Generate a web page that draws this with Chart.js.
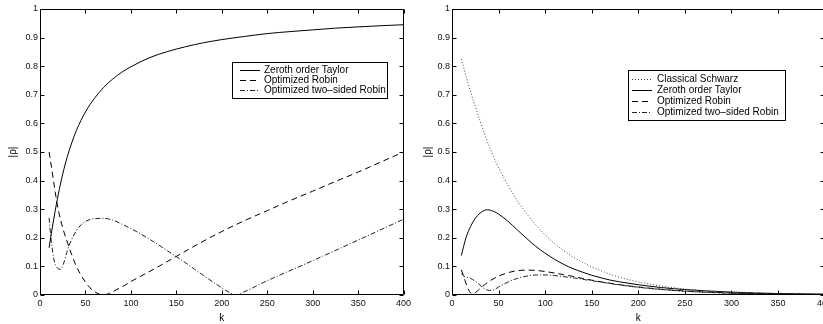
<!DOCTYPE html>
<html>
<head>
<meta charset="utf-8">
<script src="https://cdn.jsdelivr.net/npm/chart.js@4.4.0/dist/chart.umd.min.js"></script>
<style>
html,body{margin:0;padding:0;background:#fff;overflow:hidden;width:823px;height:324px}
canvas{position:absolute;top:0}
#cL{left:0}
#cR{left:412px}
</style>
</head>
<body>
<canvas id="cL" width="420" height="324"></canvas>
<canvas id="cR" width="430" height="324"></canvas>
<script>
// ---- tick labels ----
const xTickValues = [0, 50, 100, 150, 200, 250, 300, 350, 400];
const yTickValues = [0, 0.1, 0.2, 0.3, 0.4, 0.5, 0.6, 0.7, 0.8, 0.9, 1];

// ---- left panel ----
const leftTaylorK = [10,12,15,18,20,25,30,35,40,45,50,55,60,70,80,90,100,120,140,160,180,200,225,250,275,300,325,350,375,400];
const leftTaylorV = [0.165,0.206,0.263,0.317,0.35,0.423,0.483,0.533,0.575,0.61,0.64,0.666,0.688,0.726,0.755,0.779,0.798,0.829,0.851,0.868,0.882,0.893,0.904,0.914,0.921,0.927,0.933,0.9375,0.9415,0.945];

const leftRobinK = [10,13,16,20,25,30,35,40,45,50,55,60,65,70,75,80,90,100,125,150,175,200,225,250,275,300,325,350,375,400];
const leftRobinV = [0.5,0.44,0.375,0.3,0.235,0.185,0.14,0.1,0.07,0.045,0.025,0.012,0.003,0.0,0.004,0.012,0.028,0.047,0.09,0.135,0.18,0.222,0.26,0.295,0.33,0.363,0.397,0.43,0.465,0.5];

const leftTwoSidedK = [10,12,14,16,18,20,22,24,27,30,35,40,45,50,60,70,80,90,100,110,120,130,140,150,160,170,180,190,200,210,215,220,250,300,350,400];
const leftTwoSidedV = [0.27,0.2,0.15,0.115,0.1,0.092,0.09,0.095,0.12,0.155,0.195,0.225,0.245,0.257,0.267,0.268,0.262,0.248,0.232,0.215,0.196,0.176,0.155,0.134,0.113,0.09,0.068,0.046,0.025,0.006,0.0,0.005,0.05,0.12,0.192,0.265];

// ---- right panel ----
const rightSchwarzK = [10,20,30,40,50,60,70,80,90,100,110,120,130,140,150,160,170,180,200,225,250,275,300,350,400];
const rightSchwarzV = [0.825,0.71,0.61,0.52,0.445,0.385,0.33,0.285,0.245,0.21,0.18,0.155,0.133,0.115,0.098,0.085,0.072,0.062,0.046,0.031,0.021,0.014,0.01,0.005,0.002];

const rightTaylorK = [10,15,20,25,30,35,38,45,50,60,70,80,90,100,110,120,130,140,150,160,170,180,200,225,250,275,300,350,400];
const rightTaylorV = [0.138,0.2,0.24,0.268,0.286,0.296,0.298,0.292,0.283,0.258,0.228,0.198,0.17,0.146,0.125,0.107,0.092,0.08,0.069,0.06,0.052,0.046,0.036,0.026,0.019,0.014,0.01,0.005,0.003];

const rightRobinK = [10,12,14,16,18,20,22,25,30,35,40,50,60,70,80,90,100,110,120,130,140,150,160,170,180,200,225,250,275,300,350,400];
const rightRobinV = [0.088,0.07,0.05,0.032,0.017,0.007,0.003,0.008,0.022,0.036,0.048,0.066,0.078,0.085,0.087,0.086,0.082,0.077,0.071,0.065,0.058,0.052,0.046,0.041,0.036,0.028,0.02,0.014,0.01,0.007,0.004,0.002];

const rightTwoSidedK = [10,13,16,20,25,30,35,40,45,50,60,70,80,90,100,110,120,130,140,150,160,170,180,200,225,250,275,300,350,400];
const rightTwoSidedV = [0.075,0.065,0.062,0.058,0.048,0.035,0.022,0.016,0.018,0.028,0.045,0.058,0.066,0.07,0.07,0.068,0.064,0.06,0.055,0.05,0.045,0.04,0.035,0.027,0.019,0.013,0.009,0.006,0.003,0.002];

// ---- helpers ----
const FONT = "'Liberation Sans', Arial, Helvetica, sans-serif";
Chart.defaults.font.family = FONT;

function pts(ks, vs) { return ks.map((k, i) => ({ x: k, y: vs[i] })); }

const STYLE = {
  dotted:  { borderColor: '#444', borderWidth: 1, borderDash: [1, 2] },
  solid:   { borderColor: '#000', borderWidth: 1, borderDash: [] },
  dashed:  { borderColor: '#000', borderWidth: 1, borderDash: [6, 4] },
  dashdot: { borderColor: '#222', borderWidth: 1, borderDash: [5, 2, 1, 2] }
};

function ds(label, ks, vs, style) {
  return Object.assign({
    label, data: pts(ks, vs), pointRadius: 0, fill: false,
    cubicInterpolationMode: 'monotone'
  }, STYLE[style]);
}

const frameTicks = {
  id: 'frameTicks',
  afterDraw(chart) {
    const { ctx, chartArea: a, scales: { x, y } } = chart;
    const L = Math.round(a.left) + 0.5, R = Math.round(a.right) - 0.5;
    const T = Math.round(a.top) + 0.5, B = Math.round(a.bottom) - 0.5;
    const len = 4;
    ctx.save();
    ctx.strokeStyle = '#000';
    ctx.lineWidth = 1;
    ctx.setLineDash([]);
    ctx.beginPath();
    ctx.rect(L, T, R - L, B - T);
    xTickValues.forEach(v => {
      const px = Math.round(x.getPixelForValue(v)) + 0.5;
      ctx.moveTo(px, B); ctx.lineTo(px, B - len);
      ctx.moveTo(px, T); ctx.lineTo(px, T + len);
    });
    yTickValues.forEach(v => {
      const py = Math.round(y.getPixelForValue(v)) + 0.5;
      ctx.moveTo(L, py); ctx.lineTo(L + len, py);
      ctx.moveTo(R, py); ctx.lineTo(R - len, py);
    });
    ctx.stroke();
    ctx.restore();
  }
};

const boxLegend = {
  id: 'boxLegend',
  afterDraw(chart, args, opts) {
    const { ctx } = chart;
    const sets = chart.data.datasets;
    const rowH = opts.rowH, bx = opts.x, by = opts.y, bw = opts.w;
    const bh = sets.length * rowH + 6;
    ctx.save();
    ctx.fillStyle = '#fff';
    ctx.fillRect(bx, by, bw, bh);
    ctx.strokeStyle = '#000';
    ctx.lineWidth = 1;
    ctx.setLineDash([]);
    ctx.strokeRect(bx + 0.5, by + 0.5, bw, bh);
    ctx.font = "10px " + FONT;
    ctx.textBaseline = 'middle';
    ctx.textAlign = 'left';
    sets.forEach((d, i) => {
      const cy = Math.round(by + 3 + rowH * (i + 0.5)) + 0.5;
      ctx.strokeStyle = d.borderColor;
      ctx.lineWidth = d.borderWidth;
      ctx.setLineDash(d.borderDash || []);
      ctx.beginPath();
      ctx.moveTo(bx + opts.s0, cy);
      ctx.lineTo(bx + opts.s1, cy);
      ctx.stroke();
      ctx.fillStyle = '#000';
      ctx.fillText(d.label, bx + opts.t0, cy);
    });
    ctx.restore();
  }
};

function makeChart(id, datasets, rightPad, yTitlePad, legendOpts) {
  const tickFont = { size: 9, family: FONT };
  return new Chart(document.getElementById(id), {
    type: 'line',
    data: { datasets },
    plugins: [frameTicks, boxLegend],
    options: {
      responsive: false,
      animation: false,
      devicePixelRatio: 1,
      layout: { padding: { left: 0, right: rightPad, top: 9, bottom: 0 } },
      plugins: {
        legend: { display: false },
        tooltip: { enabled: false },
        boxLegend: legendOpts
      },
      scales: {
        x: {
          type: 'linear', min: 0, max: 400,
          afterBuildTicks: s => { s.ticks = xTickValues.map(v => ({ value: v })); },
          afterFit: s => { s.height = 29; },
          grid: { display: false, drawTicks: false },
          border: { display: false },
          ticks: { padding: 3, font: tickFont, color: '#111', autoSkip: false, maxRotation: 0,
                   callback: v => String(v) },
          title: { display: true, text: 'k', color: '#000', font: { size: 10, family: FONT },
                   padding: { top: 0, bottom: 0 } }
        },
        y: {
          type: 'linear', min: 0, max: 1,
          afterBuildTicks: s => { s.ticks = yTickValues.map(v => ({ value: v })); },
          afterFit: s => { s.width = 40; },
          grid: { display: false, drawTicks: false },
          border: { display: false },
          ticks: { padding: 2, font: tickFont, color: '#111', autoSkip: false,
                   callback: v => String(Math.round(v * 10) / 10) },
          title: { display: true, text: '|ρ|', color: '#000', font: { size: 10, family: FONT },
                   padding: { top: yTitlePad, bottom: 0 } }
        }
      }
    }
  });
}

makeChart('cL', [
  ds('Zeroth order Taylor', leftTaylorK, leftTaylorV, 'solid'),
  ds('Optimized Robin', leftRobinK, leftRobinV, 'dashed'),
  ds('Optimized two\u2013sided Robin', leftTwoSidedK, leftTwoSidedV, 'dashdot')
], 16.4, 7, { x: 232, y: 62, w: 155, rowH: 10, s0: 8, s1: 28, t0: 32 });

makeChart('cR', [
  ds('Classical Schwarz', rightSchwarzK, rightSchwarzV, 'dotted'),
  ds('Zeroth order Taylor', rightTaylorK, rightTaylorV, 'solid'),
  ds('Optimized Robin', rightRobinK, rightRobinV, 'dashed'),
  ds('Optimized two\u2013sided Robin', rightTwoSidedK, rightTwoSidedV, 'dashdot')
], 17.4, 10, { x: 216, y: 70, w: 157, rowH: 11, s0: 4, s1: 24, t0: 29 });
</script>
</body>
</html>
